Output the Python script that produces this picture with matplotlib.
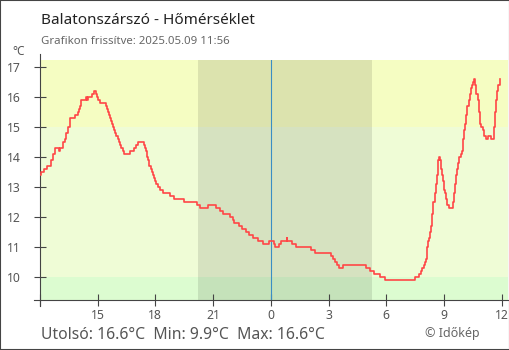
import matplotlib
matplotlib.use("Agg")
import matplotlib.pyplot as plt
from matplotlib.patches import Rectangle

plt.rcParams["font.family"] = ["Noto Sans", "DejaVu Sans"]

# Temperature readings, 2025.05.08 12:00 -> 2025.05.09 11:56 (local time, °C)
times = [
    "12:00", "12:04", "12:12", "12:23", "12:33", "12:41", "12:46", "12:59", "13:02",
    "13:12", "13:17", "13:22", "13:28", "13:33", "13:48", "13:57", "14:01", "14:04",
    "14:07", "14:25", "14:27", "14:30", "14:42", "14:49", "14:56", "14:58", "15:01",
    "15:07", "15:27", "15:30", "15:33", "15:36", "15:39", "15:41", "15:44", "15:48",
    "15:52", "15:55", "15:58", "16:02", "16:05", "16:08", "16:14", "16:18", "16:23",
    "16:41", "16:52", "16:59", "17:07", "17:25", "17:28", "17:31", "17:33", "17:35",
    "17:37", "17:39", "17:41", "17:46", "17:48", "17:51", "17:56", "17:59", "18:02",
    "18:08", "18:15", "18:23", "18:44", "18:59", "19:28", "20:10", "20:20", "20:43",
    "21:10", "21:22", "21:30", "21:54", "22:01", "22:04", "22:20", "22:30", "22:43",
    "22:53", "23:05", "23:19", "23:35", "23:53", "00:09", "00:14", "00:27", "00:32",
    "00:49", "00:52", "01:07", "01:19", "02:06", "02:17", "03:08", "03:13", "03:20",
    "03:25", "03:32", "03:45", "04:57", "05:10", "05:23", "05:42", "05:57", "07:29",
    "07:42", "07:48", "07:53", "07:58", "08:01", "08:03", "08:06", "08:08", "08:11",
    "08:13", "08:16", "08:19", "08:22", "08:27", "08:31", "08:34", "08:37", "08:40",
    "08:42", "08:45", "08:48", "08:50", "08:55", "08:58", "09:00", "09:03", "09:07",
    "09:11", "09:16", "09:27", "09:30", "09:34", "09:37", "09:40", "09:44", "09:47",
    "09:52", "09:56", "09:59", "10:03", "10:07", "10:10", "10:13", "10:17", "10:21",
    "10:24", "10:28", "10:31", "10:34", "10:37", "10:40", "10:45", "10:49", "10:53",
    "10:57", "11:01", "11:05", "11:10", "11:16", "11:26", "11:36", "11:39", "11:43",
    "11:47", "11:50", "11:56",
]
temps = [
    13.4, 13.5, 13.6, 13.7, 13.9, 14.1, 14.3, 14.2, 14.3,
    14.5, 14.6, 14.8, 15.0, 15.3, 15.4, 15.5, 15.6, 15.7,
    15.9, 16.0, 15.9, 16.0, 16.1, 16.2, 16.1, 16.0, 15.9,
    15.8, 15.7, 15.6, 15.5, 15.4, 15.3, 15.2, 15.1, 15.0,
    14.9, 14.8, 14.7, 14.6, 14.5, 14.4, 14.3, 14.2, 14.1,
    14.2, 14.3, 14.4, 14.5, 14.4, 14.3, 14.2, 14.1, 14.0,
    13.9, 13.8, 13.7, 13.6, 13.5, 13.4, 13.3, 13.2, 13.1,
    13.0, 12.9, 12.8, 12.7, 12.6, 12.5, 12.4, 12.3, 12.4,
    12.3, 12.2, 12.1, 12.0, 11.9, 11.8, 11.7, 11.6, 11.5,
    11.4, 11.3, 11.2, 11.1, 11.2, 11.1, 11.0, 11.1, 11.2,
    11.3, 11.2, 11.1, 11.0, 10.9, 10.8, 10.7, 10.6, 10.5,
    10.4, 10.3, 10.4, 10.3, 10.2, 10.1, 10.0, 9.9, 10.0,
    10.1, 10.2, 10.3, 10.4, 10.5, 10.6, 10.8, 11.0, 11.2,
    11.3, 11.5, 11.7, 12.1, 12.5, 12.8, 13.1, 13.4, 13.6,
    13.9, 14.0, 13.9, 13.6, 13.4, 13.2, 12.9, 12.8, 12.6,
    12.4, 12.3, 12.5, 12.8, 13.1, 13.4, 13.6, 13.8, 14.0,
    14.1, 14.2, 14.6, 14.9, 15.1, 15.4, 15.7, 15.9, 16.1,
    16.3, 16.4, 16.5, 16.6, 16.4, 16.1, 15.9, 15.5, 15.1,
    15.0, 14.9, 14.7, 14.6, 14.7, 14.6, 15.0, 15.5, 15.9,
    16.2, 16.4, 16.6,
]

sunset = "20:13"
sunrise = "05:17"
band_limits = [10, 15]
band_colors = ["#dcfcd0", "#effcd6", "#f5fdc2"]
x_ticks = [12, 15, 18, 21, 24, 27, 30, 33, 36]
x_tick_labels = ["", "15", "18", "21", "0", "3", "6", "9", "12"]
y_ticks = [10, 11, 12, 13, 14, 15, 16, 17]

station = "Balatonszárszó - Hőmérséklet"
updated = "Grafikon frissítve: 2025.05.09 11:56"


def to_hours(hhmm):
    # hours counted from midnight of the first day; morning readings belong to day two
    h, m = (int(p) for p in hhmm.split(":"))
    val = h + m / 60
    return val if val >= 12 else val + 24


hours = [to_hours(t) for t in times]

W, H = 510, 350
fig = plt.figure(figsize=(W / 100, H / 100), dpi=100)
fig.patch.set_facecolor("white")

ax = fig.add_axes([40 / W, 50 / H, 468 / W, 240 / H])
xmin, xmax = 12.0, 36.33
ymin, ymax = 9.24, 17.24
ax.set_xlim(xmin, xmax)
ax.set_ylim(ymin, ymax)

# temperature bands
edges = [ymin] + band_limits + [ymax]
for lo, hi, c in zip(edges[:-1], edges[1:], band_colors):
    ax.axhspan(lo, hi, color=c, lw=0, zorder=0)

# night shading and midnight marker
ax.axvspan(to_hours(sunset), to_hours(sunrise), color="black", alpha=0.1, lw=0, zorder=1)
ax.axvline(24, color="#3a8ec4", lw=0.8, zorder=2)

ax.plot(hours, temps, drawstyle="steps-post", color="#ff4646", lw=1.2, zorder=3)

for side in ("top", "right"):
    ax.spines[side].set_visible(False)
for side in ("left", "bottom"):
    ax.spines[side].set_color("#444444")
    ax.spines[side].set_linewidth(0.8)
ax.spines["left"].set_bounds(ymin - 0.2, ymax + 0.2)
ax.spines["bottom"].set_bounds(xmin - 0.31, xmax)

ax.set_xticks(x_ticks)
ax.set_xticklabels(x_tick_labels)
ax.set_yticks(y_ticks)
ax.tick_params(direction="inout", length=8.6, width=0.8, color="#444444",
               labelcolor="#555555", labelsize=8.8)
ax.tick_params(axis="y", pad=9.4)
ax.tick_params(axis="x", pad=2.5)

def px(x, y):
    return x / W, 1 - y / H

fig.text(*px(41, 24), station, fontsize=11.0, color="#222222", va="baseline", ha="left")
fig.text(*px(41, 44.5), updated, fontsize=8.2, color="#666666", va="baseline", ha="left")
fig.text(*px(12, 55), "°C", fontsize=8.5, color="#555555", va="baseline", ha="left")

last, lo_t, hi_t = temps[-1], min(temps), max(temps)
summary = f"Utolsó: {last:.1f}°C  Min: {lo_t:.1f}°C  Max: {hi_t:.1f}°C"
fig.text(*px(41, 339), summary, fontsize=11.3, color="#555555", va="baseline", ha="left")
fig.text(*px(425, 336.5), "© Időkép", fontsize=9, color="#666666", va="baseline", ha="left")

fig.patches.append(Rectangle((0, 0), 1, 1, transform=fig.transFigure, fill=False,
                             edgecolor="#444444", lw=1.5, zorder=10))

fig.savefig("out.png", dpi=100)
